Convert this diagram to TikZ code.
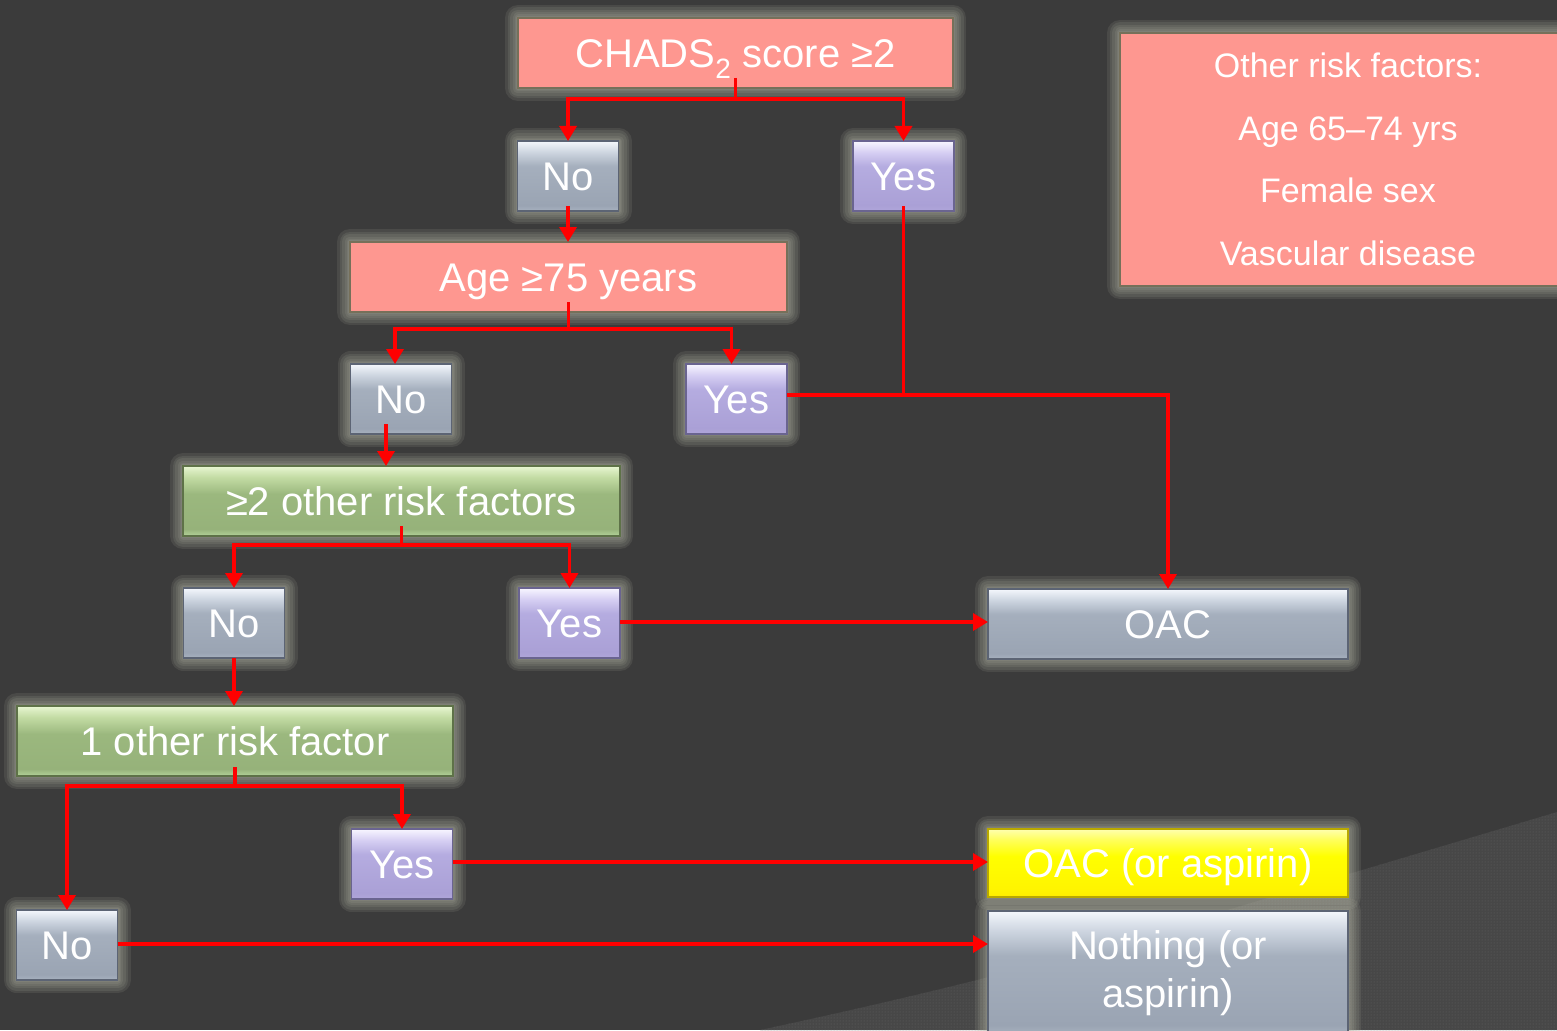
\documentclass[tikz,border=0pt]{standalone}
\usepackage{fontspec}
\setmainfont{Liberation Sans}
\usetikzlibrary{arrows.meta,calc,patterns}
\definecolor{bg}{HTML}{3B3B3B}
\definecolor{bgpat}{HTML}{474747}
\definecolor{patdot}{HTML}{626262}
\definecolor{glow}{HTML}{BCBEAC}
\definecolor{redf}{HTML}{FE9790}
\definecolor{redb}{HTML}{76705A}
\definecolor{grayb}{HTML}{5C6474}
\definecolor{purpb}{HTML}{6A6490}
\definecolor{greenb}{HTML}{5E7248}
\definecolor{yellb}{HTML}{B8A800}
\definecolor{conred}{HTML}{FF0000}
\definecolor{gA}{HTML}{A8B2C0}\definecolor{gB}{HTML}{9AA4B3}\definecolor{gC}{HTML}{A5AFBD}\definecolor{gD}{HTML}{CDD5E0}\definecolor{gE}{HTML}{F4F7FC}
\definecolor{pA}{HTML}{B0A7DA}\definecolor{pB}{HTML}{AAA0D6}\definecolor{pC}{HTML}{B5ACE0}\definecolor{pD}{HTML}{D6CFF3}\definecolor{pE}{HTML}{F8F6FF}
\definecolor{nA}{HTML}{B4D49A}\definecolor{nB}{HTML}{96B27A}\definecolor{nC}{HTML}{9BB87E}\definecolor{nD}{HTML}{C3DCA4}\definecolor{nE}{HTML}{E8F6D2}
\definecolor{yA}{HTML}{FFEC00}\definecolor{yB}{HTML}{FFF400}\definecolor{yC}{HTML}{FFFF00}\definecolor{yD}{HTML}{FFFF5A}\definecolor{yE}{HTML}{FFFFB0}
\pgfdeclareverticalshading{graysh}{100bp}{color(0bp)=(gA); color(25bp)=(gA); color(29bp)=(gB); color(57bp)=(gC); color(67bp)=(gD); color(75bp)=(gE); color(100bp)=(gE)}
\pgfdeclareverticalshading{purpsh}{100bp}{color(0bp)=(pA); color(25bp)=(pA); color(29bp)=(pB); color(57bp)=(pC); color(67bp)=(pD); color(75bp)=(pE); color(100bp)=(pE)}
\pgfdeclareverticalshading{greensh}{100bp}{color(0bp)=(nA); color(25bp)=(nA); color(30bp)=(nB); color(55bp)=(nC); color(67bp)=(nD); color(75bp)=(nE); color(100bp)=(nE)}
\pgfdeclareverticalshading{yellsh}{100bp}{color(0bp)=(yA); color(25bp)=(yA); color(30bp)=(yB); color(55bp)=(yC); color(67bp)=(yD); color(75bp)=(yE); color(100bp)=(yE)}
\begin{document}
\begin{tikzpicture}[x=1pt,y=-1pt,
  glowlayer/.style={preaction={draw=glow, line join=round, line width=#1, opacity=0.12}},
  box/.style={inner sep=0pt, outer sep=0pt, text=white, line width=1.3pt,
    font=\fontsize{40}{48}\selectfont,
    glowlayer=26pt, glowlayer=21pt, glowlayer=16pt, glowlayer=11pt, glowlayer=7pt, glowlayer=4pt},
  one/.style={text height=28.6pt, text depth=0pt},
  redbox/.style={box, fill=redf, draw=redb},
  graybox/.style={box, shade, shading=graysh, draw=grayb},
  purpbox/.style={box, shade, shading=purpsh, draw=purpb},
  greenbox/.style={box, shade, shading=greensh, draw=greenb},
  yellbox/.style={box, shade, shading=yellsh, draw=yellb},
  small/.style={one, minimum width=101pt, minimum height=70pt},
  conn/.style={draw=conred, line width=3.5pt},
  arr/.style={conn, -{Triangle[width=17pt,length=15pt]}}]
\useasboundingbox (0,0) rectangle (1557,1030);
\clip (0,0) rectangle (1557,1030);
\fill[bg] (0,0) rectangle (1557,1030);
\path[fill=bgpat] (760,1030) .. controls (900,1000) and (1000,975) .. (1100,948) -- (1557,812) -- (1557,1030) -- cycle;
\path[pattern=dots, pattern color=patdot] (760,1030) .. controls (900,1000) and (1000,975) .. (1100,948) -- (1557,812) -- (1557,1030) -- cycle;

\node[redbox, one, minimum width=435pt, minimum height=70pt] (chads) at (735.5,53) {CHADS\textsubscript{2} score ≥2};
\node[redbox, minimum width=456pt, minimum height=253pt, align=center, font=\fontsize{34}{62.5}\selectfont] (other) at (1348,159.5) {Other risk factors:\\Age 65–74 yrs\\Female sex\\Vascular disease};
\node[graybox, small] (no1) at (568,176) {No};
\node[purpbox, small] (yes1) at (903.5,176) {Yes};
\node[redbox, one, minimum width=437pt, minimum height=70pt] (age) at (568.5,277) {Age ≥75 years};
\node[graybox, small] (no2) at (401,399) {No};
\node[purpbox, small] (yes2) at (736.5,399) {Yes};
\node[greenbox, one, minimum width=437pt, minimum height=70pt] (two) at (401.5,501) {≥2 other risk factors};
\node[graybox, small] (no3) at (234,623) {No};
\node[purpbox, small] (yes3) at (569.5,623) {Yes};
\node[graybox, one, minimum width=360pt, minimum height=70pt] (oac) at (1168,624) {OAC};
\node[greenbox, one, minimum width=436pt, minimum height=70pt] (one) at (235,741) {1 other risk factor};
\node[purpbox, small] (yes4) at (402,864) {Yes};
\node[graybox, small] (no4) at (67,945) {No};
\node[yellbox, one, minimum width=360pt, minimum height=68pt] (oaca) at (1168,863) {OAC (or aspirin)};
\node[graybox, minimum width=360pt, minimum height=124pt, align=center] (noth) at (1168,973) {Nothing (or\\aspirin)};

% connectors
\draw[conn] ($(chads.south)+(0,-10)$) -- ($(chads.south)+(0,11)$) coordinate (s1);
\draw[arr] (s1) -| (no1.north);
\draw[arr] (s1) -| (yes1.north);
\draw[arr] ($(no1.south)+(0,-5)$) coordinate (t1) -- (t1 |- age.north);
\draw[conn] ($(age.south)+(0,-10)$) -- ($(age.south)+(0,17)$) coordinate (s2);
\draw[arr] (s2) -| ($(no2.north)+(-6,0)$);
\draw[arr] (s2) -| ($(yes2.north)+(-5,0)$);
\coordinate (j) at ($(yes2.east)+(0,-4)$);
\draw[conn] ($(yes1.south)+(0,-5)$) coordinate (t0) -- (t0 |- j);
\draw[arr] (j) -| (oac.north);
\draw[arr] ($(no2.south)+(-15,-10)$) coordinate (t2) -- (t2 |- two.north);
\draw[conn] ($(two.south)+(0,-10)$) -- ($(two.south)+(0,9)$) coordinate (s3);
\draw[arr] (s3) -| (no3.north);
\draw[arr] (s3) -| (yes3.north);
\draw[arr] ($(yes3.east)+(0,-1)$) coordinate (t3) -- (t3 -| oac.west);
\draw[arr] (no3.south) -- (no3.south |- one.north);
\draw[conn] ($(one.south)+(0,-9)$) -- ($(one.south)+(0,10)$) coordinate (s4);
\draw[arr] (s4) -| (no4.north);
\draw[arr] (s4) -| (yes4.north);
\draw[arr] ($(yes4.east)+(0,-2)$) coordinate (t4) -- (t4 -| oaca.west);
\draw[arr] ($(no4.east)+(0,-1)$) coordinate (t5) -- (t5 -| noth.west);
\end{tikzpicture}
\end{document}
